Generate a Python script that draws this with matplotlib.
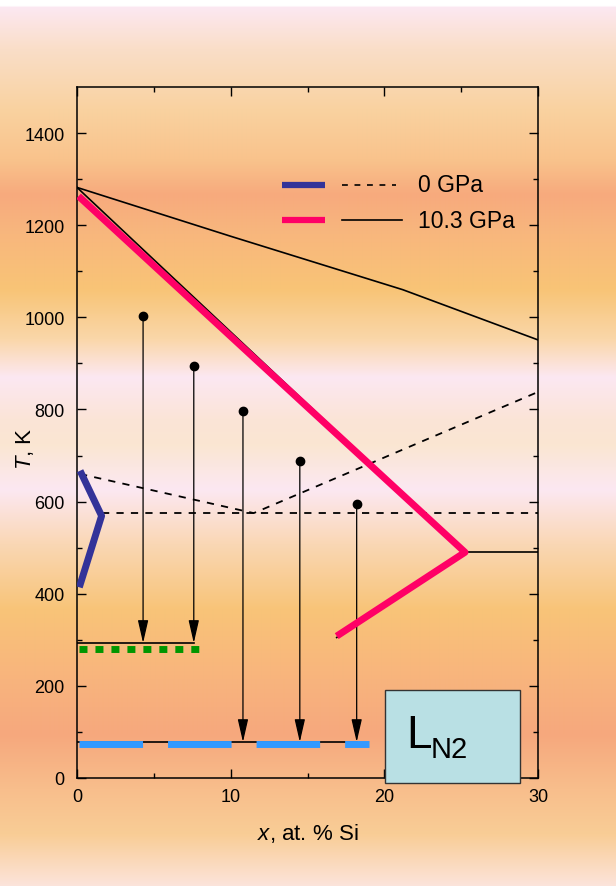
import numpy as np
import matplotlib
matplotlib.use("Agg")
import matplotlib.pyplot as plt
from matplotlib.patches import Rectangle

plt.rcParams['font.family'] = ['Liberation Sans', 'DejaVu Sans']
plt.rcParams['mathtext.fontset'] = 'custom'
plt.rcParams['mathtext.rm'] = 'Liberation Sans'
plt.rcParams['mathtext.it'] = 'Liberation Sans:italic'

# phase diagram lines, x in at.% Si, T in K
liq0_x = [0.2, 11.5, 30]
liq0_T = [660, 575, 838]
eut0_x = [1.6, 30]
eut0_T = [575, 575]

liq10_x = [0, 10, 21.2, 30]
liq10_T = [1282, 1176, 1060, 951]
sol10_x = [0, 25.25, 16.9]
sol10_T = [1282, 490, 305]
eut10_x = [25.25, 30]
eut10_T = [490, 490]

blue_x = [0.2, 1.6, 0.15]
blue_T = [667, 569, 414]
pink_x = [0.1, 25.25, 16.9]
pink_T = [1263, 490, 308]

# quench arrows: start points and target temperature
arrow_x = [4.3, 7.6, 10.8, 14.5, 18.2]
arrow_T0 = [1002, 894, 797, 688, 595]
arrow_T1 = [293, 293, 78, 78, 78]

room_T = 293
ln2_T = 78
green_T = 280
lightblue_T = 73

# background colour bands (pixel row from top, rgb)
bg_rows = [0, 6, 8, 50, 110, 160, 195, 235, 290, 340, 378, 420, 445, 490,
           545, 610, 680, 735, 790, 835, 887]
bg_rgb = [(255, 255, 255), (255, 255, 255), (252, 232, 242), (250, 222, 200),
          (249, 210, 160), (249, 195, 140), (247, 170, 125), (248, 183, 125),
          (248, 196, 118), (250, 215, 170), (252, 232, 242), (251, 228, 215),
          (250, 230, 210), (252, 232, 242), (250, 215, 180), (248, 196, 120),
          (248, 180, 125), (246, 168, 125), (248, 190, 140), (249, 205, 150),
          (252, 228, 220)]

fig = plt.figure(figsize=(6.16, 8.87), dpi=100)

# gradient background
bg = fig.add_axes([0, 0, 1, 1], zorder=0)
rows = np.arange(887)
rgb = np.array(bg_rgb) / 255.0
grad = np.stack([np.interp(rows, bg_rows, rgb[:, i]) for i in range(3)], axis=1)
bg.imshow(np.repeat(grad[:, None, :], 2, axis=1), aspect='auto',
          extent=[0, 1, 0, 1], interpolation='bilinear')
bg.axis('off')

ax = fig.add_axes([77 / 616, 1 - 779 / 887, 461 / 616, 691 / 887], zorder=1)
ax.set_facecolor('none')

# 0 GPa
ax.plot(liq0_x, liq0_T, color='black', lw=1.3, ls=(0, (4, 4)))
ax.plot(eut0_x, eut0_T, color='black', lw=1.3, ls=(0, (4, 4)))
# 10.3 GPa
ax.plot(liq10_x, liq10_T, color='black', lw=1.2)
ax.plot(sol10_x, sol10_T, color='black', lw=1.2)
ax.plot(eut10_x, eut10_T, color='black', lw=1.2)

ax.plot(blue_x, blue_T, color='#333399', lw=5, solid_capstyle='butt', zorder=4)
ax.plot(pink_x, pink_T, color='#FF0066', lw=5, solid_capstyle='butt', zorder=4)

# cooling levels
ax.plot([0, arrow_x[1]], [room_T, room_T], color='black', lw=1.2)
ax.plot([0, arrow_x[-1]], [ln2_T, ln2_T], color='black', lw=1.2)
ax.plot([0.1, 8.4], [green_T, green_T], color='#009600', lw=5,
        ls=(0, (1.15, 1.15)), dash_capstyle='butt')
ax.plot([0.1, 19.0], [lightblue_T, lightblue_T], color='#3399FF', lw=5,
        ls=(0, (9.15, 3.6)), dash_capstyle='butt')

for xa, t0, t1 in zip(arrow_x, arrow_T0, arrow_T1):
    ax.annotate('', xy=(xa, t1), xytext=(xa, t0),
                arrowprops=dict(arrowstyle='-|>,head_length=1.4,head_width=0.32',
                                color='black', lw=0.9, shrinkA=0, shrinkB=0,
                                mutation_scale=10))
ax.plot(arrow_x, arrow_T0, 'o', color='black', ms=6, zorder=5)

# L_N2 box
ax.add_patch(Rectangle((20.04, -11), 8.76, 202, facecolor='#B9E0E4',
                       edgecolor='#333333', lw=1, clip_on=False, zorder=6))
ax.text(21.45, 67, 'L', fontsize=33, ha='left', va='baseline', zorder=7)
ax.text(23.0, 45, 'N2', fontsize=21, ha='left', va='baseline', zorder=7)

# legend drawn by hand
ax.plot([0.445, 0.538], [0.8586, 0.8586], transform=ax.transAxes,
        color='#333399', lw=4.5, solid_capstyle='butt')
ax.plot([0.445, 0.538], [0.8075, 0.8075], transform=ax.transAxes,
        color='#FF0066', lw=4.5, solid_capstyle='butt')
ax.plot([0.575, 0.692], [0.8586, 0.8586], transform=ax.transAxes,
        color='black', lw=1.2, ls=(0, (3.5, 4)))
ax.plot([0.575, 0.705], [0.8075, 0.8075], transform=ax.transAxes,
        color='black', lw=1.2)
ax.text(0.740, 0.8586, '0 GPa', transform=ax.transAxes, fontsize=16.5,
        va='center', ha='left')
ax.text(0.740, 0.8075, '10.3 GPa', transform=ax.transAxes, fontsize=16.5,
        va='center', ha='left')

ax.set_xlim(0, 30)
ax.set_ylim(0, 1500)
ax.set_xticks([0, 10, 20, 30])
ax.set_xticks([5, 15, 25], minor=True)
ax.set_yticks(np.arange(0, 1401, 200))
ax.set_yticks(np.arange(100, 1500, 200), minor=True)
ax.tick_params(which='both', direction='in', top=True, right=True, width=1,
               labelsize=13)
ax.tick_params(which='major', length=6.5)
ax.tick_params(which='minor', length=3.5)
ax.tick_params(axis='x', pad=7)
ax.tick_params(axis='y', pad=9)
for s in ax.spines.values():
    s.set_linewidth(1.1)

ax.set_xlabel('$\\mathit{x}$, at. % Si', fontsize=16, labelpad=12)
ax.set_ylabel('$\\mathit{T}$, K', fontsize=16)
ax.yaxis.set_label_coords(-0.088, 0.4776)

fig.savefig('out.png', dpi=100)
